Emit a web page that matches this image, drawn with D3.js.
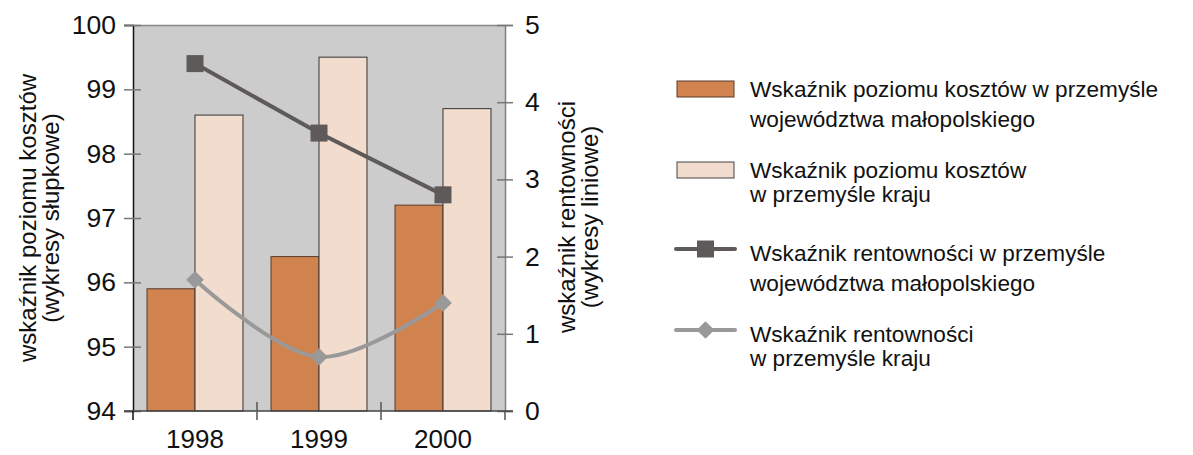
<!DOCTYPE html>
<html>
<head>
<meta charset="utf-8">
<script src="https://cdn.jsdelivr.net/npm/d3@7"></script>
<style>
  html, body { margin: 0; padding: 0; background: #fff; }
  svg text { font-family: "Liberation Sans", Arial, sans-serif; fill: #111; }
</style>
</head>
<body>
<svg id="chart" width="1193" height="455"></svg>
<script>
// Years on the category axis
const years = ["1998", "1999", "2000"];
// Cost level index (bars, left axis)
const costRegion = [95.9, 96.4, 97.2];
const costCountry = [98.6, 99.5, 98.7];
// Profitability index (lines, right axis)
const profitRegion = [4.5, 3.6, 2.8];
const profitCountry = [1.7, 0.7, 1.4];
// Tick values
const leftTicks = [94, 95, 96, 97, 98, 99, 100];
const rightTicks = [0, 1, 2, 3, 4, 5];

const legendItems = [
  { kind: "bar", fill: "#d0834f", stroke: "#5b3b2a", lines: ["Wskaźnik poziomu kosztów w przemyśle", "województwa małopolskiego"] },
  { kind: "bar", fill: "#f2dccd", stroke: "#444", lines: ["Wskaźnik poziomu kosztów", "w przemyśle kraju"] },
  { kind: "square", color: "#5f5a5a", lines: ["Wskaźnik rentowności w przemyśle", "województwa małopolskiego"] },
  { kind: "diamond", color: "#999999", lines: ["Wskaźnik rentowności", "w przemyśle kraju"] }
];

const svg = d3.select("#chart");
const pL = 133, pR = 505, pT = 25, pB = 411;
const tickFont = 26.5;

const x = d3.scaleBand().domain(years).range([pL, pR]).padding(0);
const yL = d3.scaleLinear().domain([94, 100]).range([pB, pT]);
const yR = d3.scaleLinear().domain([0, 5]).range([pB, pT]);
const bw = x.bandwidth() * 0.387;
const cx = d => x(d) + x.bandwidth() / 2;

// plot background
svg.append("rect").attr("x", pL).attr("y", pT)
  .attr("width", pR - pL).attr("height", pB - pT)
  .attr("fill", "#cccccc");

// bars
const rows = years.map((yr, i) => ({ yr, a: costRegion[i], b: costCountry[i] }));
svg.append("g").selectAll("rect").data(rows).join("rect")
  .attr("x", d => cx(d.yr) - bw).attr("width", bw)
  .attr("y", d => yL(d.a)).attr("height", d => yL(94) - yL(d.a))
  .attr("fill", "#d0834f").attr("stroke", "#5b3b2a").attr("stroke-width", 1);
svg.append("g").selectAll("rect").data(rows).join("rect")
  .attr("x", d => cx(d.yr)).attr("width", bw)
  .attr("y", d => yL(d.b)).attr("height", d => yL(94) - yL(d.b))
  .attr("fill", "#f2dccd").attr("stroke", "#333").attr("stroke-width", 1);

// top border
svg.append("line").attr("x1", pL - 9).attr("x2", pR).attr("y1", pT + 0.5).attr("y2", pT + 0.5)
  .attr("stroke", "#888").attr("stroke-width", 1.5);

// left axis
const axL = svg.append("g").attr("transform", `translate(${pL},0)`)
  .call(d3.axisLeft(yL).tickValues(leftTicks).tickSize(9).tickPadding(8).tickFormat(d3.format("d")));
axL.select(".domain").attr("stroke", "#111").attr("stroke-width", 1.5);
axL.selectAll(".tick line").attr("x1", 8).attr("stroke", "#777").attr("stroke-width", 1.5);
axL.selectAll(".tick text").attr("font-size", tickFont).attr("fill", "#111")
  .attr("font-family", "Liberation Sans, Arial, sans-serif");

// right axis
const axR = svg.append("g").attr("transform", `translate(${pR},0)`)
  .call(d3.axisRight(yR).tickValues(rightTicks).tickSize(8).tickPadding(12).tickFormat(d3.format("d")));
axR.select(".domain").attr("stroke", "#808080").attr("stroke-width", 1.5);
axR.selectAll(".tick line").attr("x1", -8).attr("stroke", "#777").attr("stroke-width", 1.5);
axR.selectAll(".tick text").attr("font-size", tickFont).attr("fill", "#111")
  .attr("font-family", "Liberation Sans, Arial, sans-serif");

// bottom axis
const bounds = [pL, ...years.slice(1).map(d => x(d)), pR];
svg.append("line").attr("x1", pL - 9).attr("x2", pR + 8).attr("y1", pB).attr("y2", pB)
  .attr("stroke", "#444").attr("stroke-width", 1.5);
svg.append("g").selectAll("line").data(bounds).join("line")
  .attr("x1", d => d).attr("x2", d => d)
  .attr("y1", (d, i) => (i === 0 || i === bounds.length - 1) ? pB : pB - 9)
  .attr("y2", pB + 9)
  .attr("stroke", (d, i) => i === 0 ? "#111" : "#555").attr("stroke-width", 1.5);
svg.append("g").selectAll("text").data(years).join("text")
  .attr("x", d => cx(d)).attr("y", 448)
  .attr("text-anchor", "middle").attr("font-size", 26).text(d => d);

// lines
const dark = years.map((yr, i) => [cx(yr), yR(profitRegion[i])]);
const light = years.map((yr, i) => [cx(yr), yR(profitCountry[i])]);
svg.append("path").attr("d", d3.line().curve(d3.curveCatmullRom.alpha(0.5))(light))
  .attr("fill", "none").attr("stroke", "#999999").attr("stroke-width", 4);
svg.append("g").selectAll("path").data(light).join("path")
  .attr("d", d3.symbol(d3.symbolDiamond2, 200)())
  .attr("transform", d => `translate(${d[0]},${d[1]})`).attr("fill", "#999999");
svg.append("path").attr("d", d3.line()(dark))
  .attr("fill", "none").attr("stroke", "#5f5a5a").attr("stroke-width", 4);
svg.append("g").selectAll("rect").data(dark).join("rect")
  .attr("x", d => d[0] - 8.5).attr("y", d => d[1] - 8.5)
  .attr("width", 17).attr("height", 17).attr("fill", "#5f5a5a");

// axis titles
const titleL = svg.append("text").attr("transform", "translate(36,218) rotate(-90)")
  .attr("text-anchor", "middle").attr("font-size", 24);
titleL.append("tspan").attr("x", 0).attr("y", 0).text("wskaźnik poziomu kosztów");
titleL.append("tspan").attr("x", 0).attr("y", 23).text("(wykresy słupkowe)");
const titleR = svg.append("text").attr("transform", "translate(575,217) rotate(-90)")
  .attr("text-anchor", "middle").attr("font-size", 24);
titleR.append("tspan").attr("x", 0).attr("y", 0).text("wskaźnik rentowności");
titleR.append("tspan").attr("x", 0).attr("y", 23).text("(wykresy liniowe)");

// legend
const legTop = [97, 178, 261, 342];
const legGap = [30, 24, 30, 24];
const lg = svg.append("g");
legendItems.forEach((it, i) => {
  const base = legTop[i];
  const g = lg.append("g");
  if (it.kind === "bar") {
    g.append("rect").attr("x", 677).attr("y", base - 16).attr("width", 57).attr("height", 16)
      .attr("fill", it.fill).attr("stroke", it.stroke).attr("stroke-width", 1);
  } else {
    const my = base - 12;
    g.append("line").attr("x1", 676).attr("x2", 735).attr("y1", my).attr("y2", my)
      .attr("stroke", it.color).attr("stroke-width", 4).attr("stroke-linecap", "round");
    if (it.kind === "square") {
      g.append("rect").attr("x", 697).attr("y", my - 8.5).attr("width", 17).attr("height", 17).attr("fill", it.color);
    } else {
      g.append("path").attr("d", d3.symbol(d3.symbolDiamond2, 200)())
        .attr("transform", `translate(705.5,${my})`).attr("fill", it.color);
    }
  }
  const t = g.append("text").attr("font-size", 22.6);
  it.lines.forEach((ln, j) => {
    t.append("tspan").attr("x", 750).attr("y", base + j * legGap[i]).text(ln);
  });
});
</script>
</body>
</html>
